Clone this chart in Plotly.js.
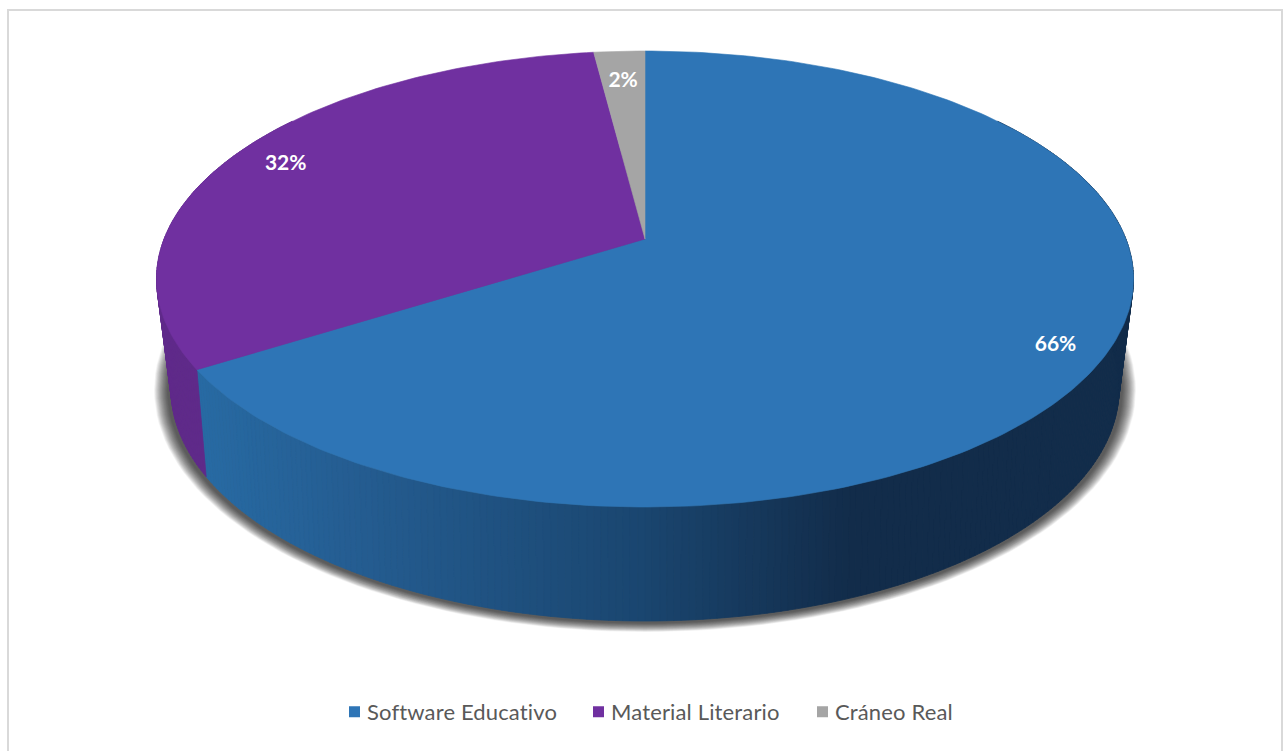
<!DOCTYPE html>
<html>
<head>
<meta charset="utf-8">
<script src="https://cdn.plot.ly/plotly-3.0.1.min.js"></script>
<style>
html,body{margin:0;padding:0;background:#fff;overflow:hidden}
#chart{width:1283px;height:751px}
#chart text{font-variant-ligatures:none}
#chart .legendtext{letter-spacing:0.15px}
</style>
</head>
<body>
<div id="chart"></div>
<script>
// Survey shares
const categories = ["Software Educativo", "Material Literario", "Cráneo Real"];
const values = [66, 32, 2];
const valueLabels = ["66%", "32%", "2%"];
const topColors = ["#2E75B6", "#7030A0", "#A5A5A5"];
const sideColors = ["#2E75B6", "#5F2A8A", "#7C7C7C"];
const labelRadii = [0.9, 0.88, 0.83];

// Perspective disc: an ellipse whose centre of rotation sits above its geometric centre
const W = 1283, H = 751;
const topDisc = {cx: 645, cy: 279, rx: 488.5, ry: 228, p: 0.1754};
const baseDisc = {cx: 645, cy: 389, rx: 474, ry: 232, p: 0.198};

// Maps a clockwise fraction of the turn and a radius onto a disc
function project(d, f, r) {
  const a = f * 2 * Math.PI;
  const u = r * Math.sin(a), v = r * Math.cos(a);
  const k = 1 + d.p * v;
  return [d.cx + d.rx * Math.sqrt(1 - d.p * d.p) * u / k,
          d.cy - d.ry * (v + d.p) / k];
}

const total = values.reduce((s, v) => s + v, 0);
const bounds = [0];
values.forEach(v => bounds.push(bounds[bounds.length - 1] + v / total));

const traces = [];
function poly(xs, ys, color, opacity, lineWidth) {
  traces.push({
    type: "scatter", mode: "lines", x: xs, y: ys, fill: "toself", fillcolor: color,
    line: {color: color, width: lineWidth},
    opacity: opacity,
    showlegend: false, hoverinfo: "skip"
  });
}

// Soft drop shadow below the base
const shadowSteps = 26;
for (let i = shadowSteps; i >= 1; i--) {
  const t = i / shadowSteps;
  const xs = [], ys = [];
  for (let j = 0; j <= 180; j++) {
    const a = j / 180 * 2 * Math.PI;
    xs.push(baseDisc.cx + (baseDisc.rx + 3 + 14 * t) * Math.cos(a));
    ys.push(baseDisc.cy + 1 + (baseDisc.ry + 1 + 9 * t) * Math.sin(a));
  }
  poly(xs, ys, "#000000", 0.034, 0);
}

// Horizontal shading of the large slice's wall
const shadeStops = [[205, [39, 106, 163]], [340, [37, 94, 147]], [640, [26, 70, 112]], [850, [18, 44, 74]], [1140, [18, 44, 74]]];
function wallShade(x) {
  for (let i = 1; i < shadeStops.length; i++) {
    if (x <= shadeStops[i][0]) {
      const [x0, c0] = shadeStops[i - 1], [x1, c1] = shadeStops[i];
      const t = Math.max(0, (x - x0) / (x1 - x0));
      return "rgb(" + c0.map((c, k) => Math.round(c + (c1[k] - c) * t)).join(",") + ")";
    }
  }
  return "rgb(18,44,74)";
}

// Outer wall, built of narrow quads between the two rims
function wall(f0, f1, colorAt) {
  const n = Math.max(2, Math.round((f1 - f0) * 500));
  for (let i = n - 1; i >= 0; i--) {
    const a = f0 + (f1 - f0) * i / n, b = f0 + (f1 - f0) * (i + 1) / n;
    const p0 = project(topDisc, a, 1), p1 = project(topDisc, b, 1);
    const q1 = project(baseDisc, b, 1), q0 = project(baseDisc, a, 1);
    poly([p0[0], p1[0], q1[0], q0[0], p0[0]], [p0[1], p1[1], q1[1], q0[1], p0[1]], colorAt((p0[0] + q1[0]) / 2), 1, 0.8);
  }
}
wall(0.15, bounds[1], wallShade);
wall(bounds[1], 0.85, () => sideColors[1]);

// Top face slices
values.forEach((v, i) => {
  const xs = [], ys = [];
  const c = project(topDisc, 0, 0);
  xs.push(c[0]); ys.push(c[1]);
  const n = Math.max(4, Math.round((bounds[i + 1] - bounds[i]) * 360));
  for (let j = 0; j <= n; j++) {
    const pt = project(topDisc, bounds[i] + (bounds[i + 1] - bounds[i]) * j / n, 1);
    xs.push(pt[0]); ys.push(pt[1]);
  }
  xs.push(c[0]); ys.push(c[1]);
  poly(xs, ys, topColors[i], 1, 0.6);
});

// Value labels
const labelPts = values.map((v, i) => project(topDisc, (bounds[i] + bounds[i + 1]) / 2, labelRadii[i]));
traces.push({
  type: "scatter", mode: "text",
  x: labelPts.map(p => p[0]), y: labelPts.map(p => p[1] + 3),
  text: valueLabels, textposition: "middle center",
  textfont: {family: "Lato, sans-serif", size: 21, color: "#FFFFFF", weight: 700},
  showlegend: false, hoverinfo: "skip"
});

// Legend entries
categories.forEach((name, i) => {
  traces.push({
    type: "scatter", mode: "markers", name: name, x: [null], y: [null],
    marker: {symbol: "square", size: 11, color: topColors[i]},
    showlegend: true, hoverinfo: "skip"
  });
});

const layout = {
  width: W, height: H,
  margin: {l: 0, r: 0, t: 0, b: 0},
  paper_bgcolor: "#FFFFFF", plot_bgcolor: "#FFFFFF",
  xaxis: {range: [0, W], visible: false, fixedrange: true},
  yaxis: {range: [H, 0], visible: false, fixedrange: true},
  hovermode: false,
  showlegend: true,
  legend: {
    orientation: "h", xref: "paper", yref: "paper", x: 0.5, xanchor: "center", y: 0.052, yanchor: "middle",
    font: {family: "Lato, sans-serif", size: 22, color: "#595959"},
    bgcolor: "rgba(0,0,0,0)", itemclick: false, itemdoubleclick: false
  },
  shapes: [{
    type: "rect", xref: "x", yref: "y", x0: 8, x1: 1282, y0: 10, y1: 770,
    line: {color: "#D9D9D9", width: 2}, fillcolor: "rgba(0,0,0,0)", layer: "below"
  }]
};

// Legend keys sit closer to their text than the default layout allows
const legendKeyCentres = [354.5, 598.5, 822.5];
const keyToText = 12.5;

Plotly.newPlot("chart", traces, layout, {staticPlot: true, displayModeBar: false}).then(gd => {
  const legend = gd.querySelector(".legend");
  const origin = parseFloat((legend.getAttribute("transform") || "translate(0,0)").split("(")[1]);
  legend.querySelectorAll(".scrollbox").forEach(b => b.removeAttribute("clip-path"));
  legend.querySelectorAll(".traces").forEach((item, i) => {
    const tr = item.getAttribute("transform").match(/translate\(([^,]+),\s*([^)]+)\)/);
    const markerOffset = 20;
    item.setAttribute("transform", `translate(${legendKeyCentres[i] - origin - markerOffset},${tr[2]})`);
    item.querySelector(".legendtext").setAttribute("x", markerOffset + keyToText);
  });
});
</script>
</body>
</html>
